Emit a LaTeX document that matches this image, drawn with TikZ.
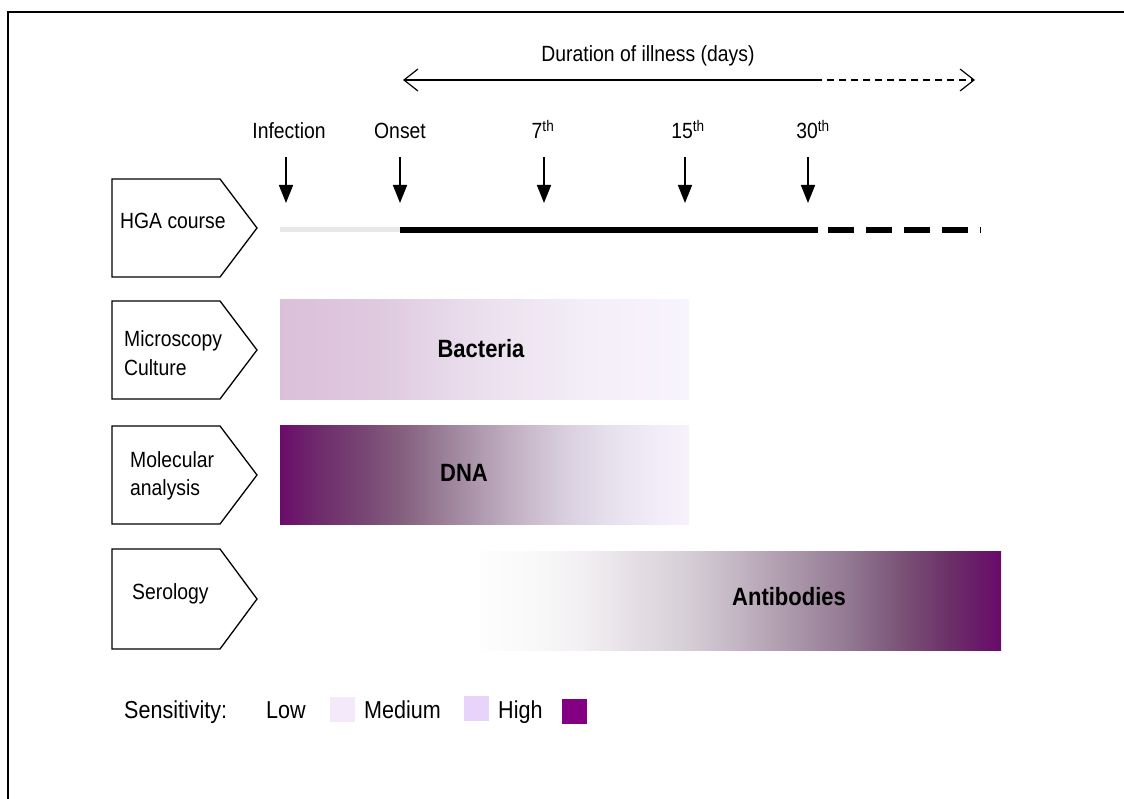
\documentclass[tikz,border=0pt]{standalone}
\usepackage{fontspec}
\setmainfont{Liberation Sans}[FakeStretch=0.88]
\usetikzlibrary{arrows.meta}
\definecolor{bA}{HTML}{DBC0DA}
\definecolor{bB}{HTML}{DFCAE0}
\definecolor{bC}{HTML}{EBE0EE}
\definecolor{bD}{HTML}{F3EEF8}
\definecolor{bE}{HTML}{F8F4FD}
\definecolor{dA}{HTML}{6A0C6A}
\definecolor{dB}{HTML}{6F2D6C}
\definecolor{dC}{HTML}{774573}
\definecolor{dD}{HTML}{85607F}
\definecolor{dE}{HTML}{9A8098}
\definecolor{dF}{HTML}{B29DB2}
\definecolor{dG}{HTML}{C8B8CA}
\definecolor{dH}{HTML}{D9D0DF}
\definecolor{dI}{HTML}{E6DFEC}
\definecolor{dJ}{HTML}{F0EAF6}
\definecolor{dK}{HTML}{F6F2FC}
\definecolor{aA}{HTML}{FDFDFD}
\definecolor{aB}{HTML}{F9F9F9}
\definecolor{aC}{HTML}{F2EFF2}
\definecolor{aD}{HTML}{E4DEE4}
\definecolor{aE}{HTML}{D5CED6}
\definecolor{aF}{HTML}{C2B4C2}
\definecolor{aG}{HTML}{AB97AA}
\definecolor{aH}{HTML}{947B94}
\definecolor{aI}{HTML}{7C5679}
\definecolor{aJ}{HTML}{6B3068}
\definecolor{aK}{HTML}{680A6A}
\definecolor{legMed}{HTML}{F3E9FB}
\definecolor{legHigh}{HTML}{E8D4FB}
\definecolor{legVery}{HTML}{830083}
\definecolor{preline}{HTML}{E8E8E8}
\pgfdeclarehorizontalshading{bactshade}{100bp}{color(0bp)=(bA); color(25bp)=(bA); color(37.5bp)=(bB); color(50bp)=(bC); color(62.5bp)=(bD); color(75bp)=(bE); color(100bp)=(bE)}
\pgfdeclarehorizontalshading{dnashade}{100bp}{color(0bp)=(dA); color(25bp)=(dA); color(30bp)=(dB); color(35bp)=(dC); color(40bp)=(dD); color(45bp)=(dE); color(50bp)=(dF); color(55bp)=(dG); color(60bp)=(dH); color(65bp)=(dI); color(70bp)=(dJ); color(75bp)=(dK); color(100bp)=(dK)}
\pgfdeclarehorizontalshading{abshade}{100bp}{color(0bp)=(aA); color(25bp)=(aA); color(30bp)=(aB); color(35bp)=(aC); color(40bp)=(aD); color(45bp)=(aE); color(50bp)=(aF); color(55bp)=(aG); color(60bp)=(aH); color(65bp)=(aI); color(70bp)=(aJ); color(75bp)=(aK); color(100bp)=(aK)}
\tikzset{
  lbl/.style={font=\fontsize{22}{26}\selectfont, inner sep=0pt},
  leglbl/.style={font=\fontsize{24.5}{28}\selectfont, inner sep=0pt},
  blbl/.style={font=\fontsize{25}{30}\selectfont\bfseries, inner sep=0pt},
  pent/.style={draw=black, line width=1.3pt, fill=white},
  downarrow/.style={line width=1.6pt, -{Triangle[length=18pt,width=14pt]}},
  durarrow/.style={line width=1.2pt},
  legbox/.style={minimum width=25pt, minimum height=25pt, inner sep=0pt}
}
\begin{document}
\begin{tikzpicture}[x=1pt,y=-1pt]
\useasboundingbox (0,0) rectangle (1124,799);
\fill[white] (0,0) rectangle (1124,799);
% frame
\draw[line width=2pt] (8,800) -- (8,12) -- (1130,12);

% duration arrow
\node[lbl, anchor=base] (dur) at (648,62) {Duration of illness (days)};
\coordinate (dL) at (403,80);
\coordinate (dM) at (815,80);
\coordinate (dR) at (975,80);
\draw[durarrow, {Straight Barb[length=14pt,width=22pt]}-] (dL) -- (dM);
\draw[durarrow, dash pattern=on 7pt off 5pt, -{Straight Barb[length=14pt,width=22pt]}] (dM) -- (dR);

% tick labels
\node[lbl, anchor=base] (tInf) at (289,139) {Infection};
\node[lbl, anchor=base] (tOn) at (400,139) {Onset};
\node[lbl, anchor=base] (t7) at (543,139) {7\textsuperscript{th}};
\node[lbl, anchor=base] (t15) at (688,139) {15\textsuperscript{th}};
\node[lbl, anchor=base] (t30) at (813,139) {30\textsuperscript{th}};

% down arrows
\foreach \n/\x in {Inf/286,On/400,S/544,F/685,T/808}{
  \coordinate (a\n) at (\x,157);
  \coordinate (b\n) at (\x,203);
  \draw[downarrow] (a\n) -- (b\n);
}

% HGA course line
\coordinate (h0) at (280,230);
\coordinate (h1) at (400,230);
\coordinate (h2) at (818,230);
\coordinate (h3) at (828,230);
\coordinate (h4) at (981,230);
\draw[preline, line width=5pt] (h0) -- (h1);
\draw[black, line width=6pt] (h1) -- (h2);
\draw[black, line width=6pt, dash pattern=on 26pt off 12pt] (h3) -- (h4);

% pentagons
\draw[pent] (112,179) -- (220,179) -- (257,228) -- (220,277) -- (112,277) -- cycle;
\draw[pent] (112,301) -- (220,301) -- (257,350) -- (220,399) -- (112,399) -- cycle;
\draw[pent] (112,426) -- (220,426) -- (257,475) -- (220,524) -- (112,524) -- cycle;
\draw[pent] (112,549) -- (220,549) -- (257,599) -- (220,649) -- (112,649) -- cycle;
\node[lbl, anchor=base west] (pHGA) at (120,229) {HGA course};
\node[lbl, anchor=base west] (pMic1) at (124,347) {Microscopy};
\node[lbl, anchor=base west] (pMic2) at (124,375) {Culture};
\node[lbl, anchor=base west] (pMol1) at (130,467) {Molecular};
\node[lbl, anchor=base west] (pMol2) at (130,495) {analysis};
\node[lbl, anchor=base west] (pSer) at (132,599) {Serology};

% gradient bars
\shade[shading=bactshade] (280,300) rectangle (689,399);
\shade[shading=dnashade] (280,425) rectangle (689,524);
\shade[shading=abshade] (480,551) rectangle (1001,650);
\node[blbl, anchor=base] (bact) at (481,358) {Bacteria};
\node[blbl, anchor=base] (dna) at (464,481) {DNA};
\node[blbl, anchor=base] (ab) at (789,605) {Antibodies};

% legend
\node[leglbl, anchor=base west] (sens) at (124,718) {Sensitivity:};
\node[leglbl, anchor=base west] (low) at (266,718) {Low};
\node[legbox, fill=legMed, anchor=north west] (boxMed) at (330,697) {};
\node[leglbl, anchor=base west] (med) at (364,718) {Medium};
\node[legbox, fill=legHigh, anchor=north west] (boxHigh) at (464,696) {};
\node[leglbl, anchor=base west] (high) at (498,718) {High};
\node[legbox, fill=legVery, anchor=north west] (boxVery) at (562,699) {};
\end{tikzpicture}
\end{document}
